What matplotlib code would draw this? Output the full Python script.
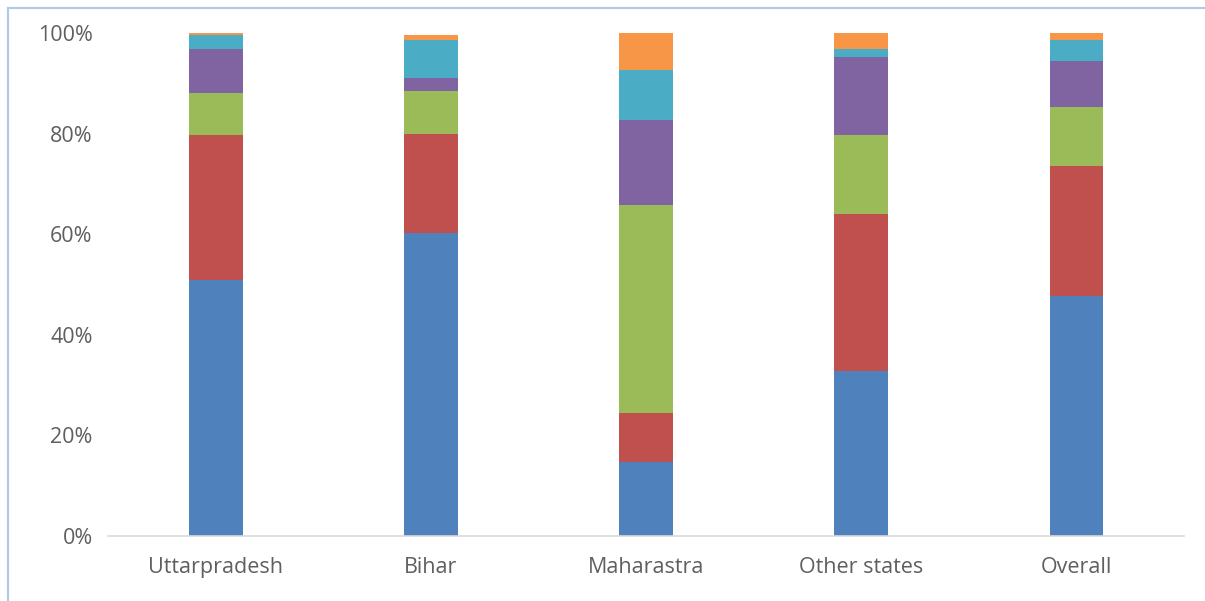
import numpy as np
from matplotlib import pyplot as plt
from matplotlib.lines import Line2D

states = ['Uttarpradesh', 'Bihar', 'Maharastra', 'Other states', 'Overall']

# shares in percent, bottom segment first
blue = [50.9, 60.2, 14.7, 32.8, 47.7]
red = [28.9, 19.8, 9.7, 31.2, 25.8]
green = [8.3, 8.5, 41.4, 15.7, 11.8]
purple = [8.7, 2.6, 17.0, 15.6, 9.1]
cyan = [2.8, 7.6, 9.8, 1.5, 4.2]
orange = [0.4, 1.0, 7.4, 3.2, 1.4]

series = [blue, red, green, purple, cyan, orange]
colors = ['#4F81BD', '#C0504D', '#9BBB59', '#8064A2', '#4BACC6', '#F79646']

plt.rcParams['font.family'] = ['Open Sans', 'DejaVu Sans']

fig = plt.figure(figsize=(12.05, 6.01), dpi=100)
ax = fig.add_axes([108 / 1205, 1 - 536 / 601, (1184 - 108) / 1205, (536 - 33) / 601])

x = np.arange(len(states))
bottom = np.zeros(len(states))
for vals, col in zip(series, colors):
    v = np.array(vals) / 100.0
    ax.bar(x, v, width=0.25, bottom=bottom, color=col, linewidth=0)
    bottom += v

ax.set_xlim(-0.5, len(states) - 0.5)
ax.set_ylim(0, 1)
ax.set_yticks(np.arange(0, 1.01, 0.2))
ax.set_yticklabels(['%d%%' % round(t * 100) for t in np.arange(0, 1.01, 0.2)])
ax.set_xticks(x)
ax.set_xticklabels(states)

for s in ['top', 'right', 'left']:
    ax.spines[s].set_visible(False)
ax.spines['bottom'].set_color('#D9D9D9')
ax.spines['bottom'].set_linewidth(1.2)
ax.tick_params(axis='both', length=0, colors='#5F5F5F', labelsize=15.5)
ax.tick_params(axis='y', pad=11)
ax.tick_params(axis='x', pad=15)

# chart frame (light blue lines on top and left)
fig.add_artist(Line2D([8 / 1205, 1], [1 - 8 / 601, 1 - 8 / 601], color='#B4C7E7', lw=1.5, transform=fig.transFigure))
fig.add_artist(Line2D([8 / 1205, 8 / 1205], [0, 1 - 8 / 601], color='#B4C7E7', lw=1.5, transform=fig.transFigure))

fig.savefig('out.png', dpi=100)
